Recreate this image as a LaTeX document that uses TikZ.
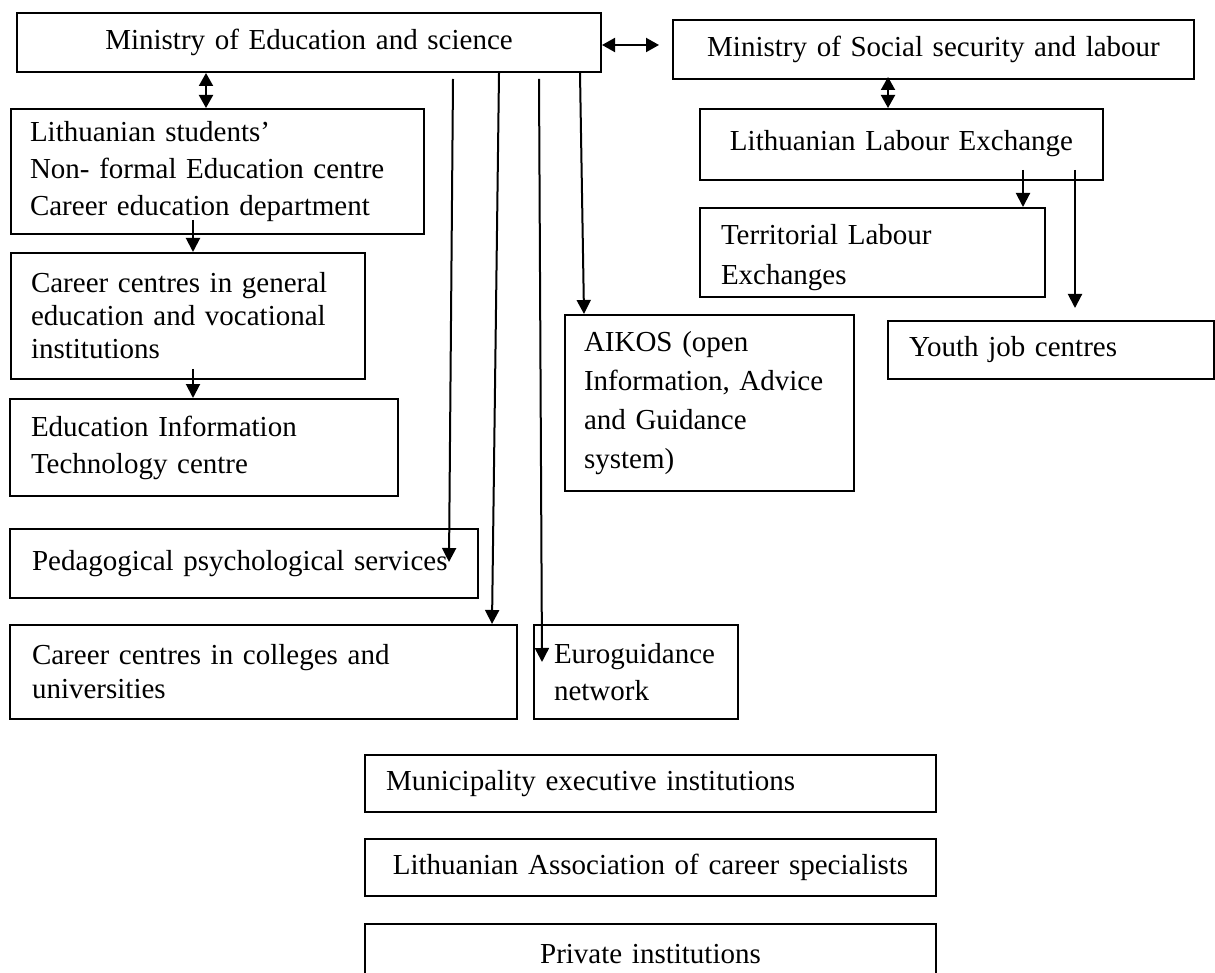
\documentclass[tikz,border=0pt]{standalone}
\usepackage{fontspec}
\setmainfont{Liberation Serif}
\usetikzlibrary{arrows.meta,calc}
\hyphenpenalty=10000
\exhyphenpenalty=10000
\begin{document}
\begin{tikzpicture}[x=1pt,y=-1pt,
  bx/.style={draw, line width=2pt, anchor=north west, inner ysep=0pt,
    font=\fontsize{29}{37}\selectfont},
  arr/.style={line width=2pt, -{Triangle[length=14pt,width=14pt]}},
  dbl/.style={line width=2pt, {Triangle[length=13pt,width=14pt]}-{Triangle[length=13pt,width=14pt]}}]
\useasboundingbox (0,0) rectangle (1215,973);

% left column
\node[bx, inner xsep=20pt, text width=544pt, minimum height=59pt, align=center] (moe) at (16,12) {Ministry of Education and science};
\node[bx, inner xsep=19pt, text width=375pt, minimum height=125pt, align=left] (lsnec) at (10,108)
  {Lithuanian students’\\Non- formal Education centre\\Career education department};
\node[bx, inner xsep=20pt, text width=314pt, minimum height=126pt, align=left, font=\fontsize{29}{33}\selectfont] (ccge) at (10,252)
  {Career centres in general\\education and vocational\\institutions};
\node[bx, inner xsep=21pt, text width=346pt, minimum height=97pt, align=left] (eitc) at (9,398)
  {Education Information\\Technology centre};
\node[bx, inner xsep=22pt, text width=424pt, minimum height=69pt, align=left] (ped) at (9,528)
  {Pedagogical psychological services};
\node[bx, inner xsep=22pt, text width=463pt, minimum height=94pt, align=left, font=\fontsize{29}{34}\selectfont] (cccu) at (9,624)
  {Career centres in colleges and\\universities};
\node[bx, inner xsep=20pt, text width=164pt, minimum height=94pt, align=left] (euro) at (533,624)
  {Euroguidance\\network};
\node[bx, inner xsep=19pt, text width=251pt, minimum height=176pt, align=left, font=\fontsize{29}{39}\selectfont] (aikos) at (564,314)
  {AIKOS (open\\Information, Advice\\and Guidance\\system)};

% right column
\node[bx, inner xsep=20pt, text width=481pt, minimum height=59pt, align=center] (mss) at (672,19) {Ministry of Social security and labour};
\node[bx, inner xsep=20pt, text width=363pt, minimum height=71pt, align=center] (lle) at (699,108) {Lithuanian Labour Exchange\rule[-8pt]{0pt}{8pt}};
\node[bx, inner xsep=21pt, text width=303pt, minimum height=89pt, align=left, font=\fontsize{29}{40}\selectfont] (tle) at (699,207)
  {\rule{0pt}{30pt}Territorial Labour\\Exchanges};
\node[bx, inner xsep=21pt, text width=284pt, minimum height=58pt, align=left] (youth) at (887,320) {Youth job centres};

% bottom
\node[bx, inner xsep=21pt, text width=529pt, minimum height=57pt, align=left] (mun) at (364,754) {Municipality executive institutions};
\node[bx, inner xsep=20pt, text width=531pt, minimum height=57pt, align=center] (lacs) at (364,838) {Lithuanian Association of career specialists};
\node[bx, inner xsep=20pt, text width=531pt, minimum height=60pt, align=center] (priv) at (364,923) {Private institutions};

% connectors
\draw[dbl] ($(moe.south east)+(0,-28)$) -- ($(mss.south west)+(-13,-35)$);
\draw[dbl] ($(moe.south west)+(190,0)$) -- ($(lsnec.north west)+(196,0)$);
\draw[arr] ($(lsnec.south west)+(183,-15)$) -- ($(ccge.north west)+(183,0)$);
\draw[arr] ($(ccge.south west)+(183,-11)$) -- ($(eitc.north west)+(184,0)$);
\draw[arr] ($(moe.south west)+(437,6)$) -- ($(ped.north west)+(440,34)$);
\draw[arr] ($(moe.south west)+(483,0)$) -- ($(cccu.north west)+(483,0)$);
\draw[arr] ($(moe.south west)+(523,6)$) -- ($(euro.north west)+(9,38)$);
\draw[arr] ($(moe.south west)+(564,0)$) -- ($(aikos.north west)+(20,0)$);
\draw[dbl] ($(mss.south west)+(216,-3)$) -- ($(lle.north west)+(189,0)$);
\draw[arr] ($(lle.south west)+(324,-11)$) -- ($(tle.north west)+(324,0)$);
\draw[arr] ($(lle.south west)+(376,-11)$) -- ($(youth.north west)+(188,-12)$);
\end{tikzpicture}
\end{document}
